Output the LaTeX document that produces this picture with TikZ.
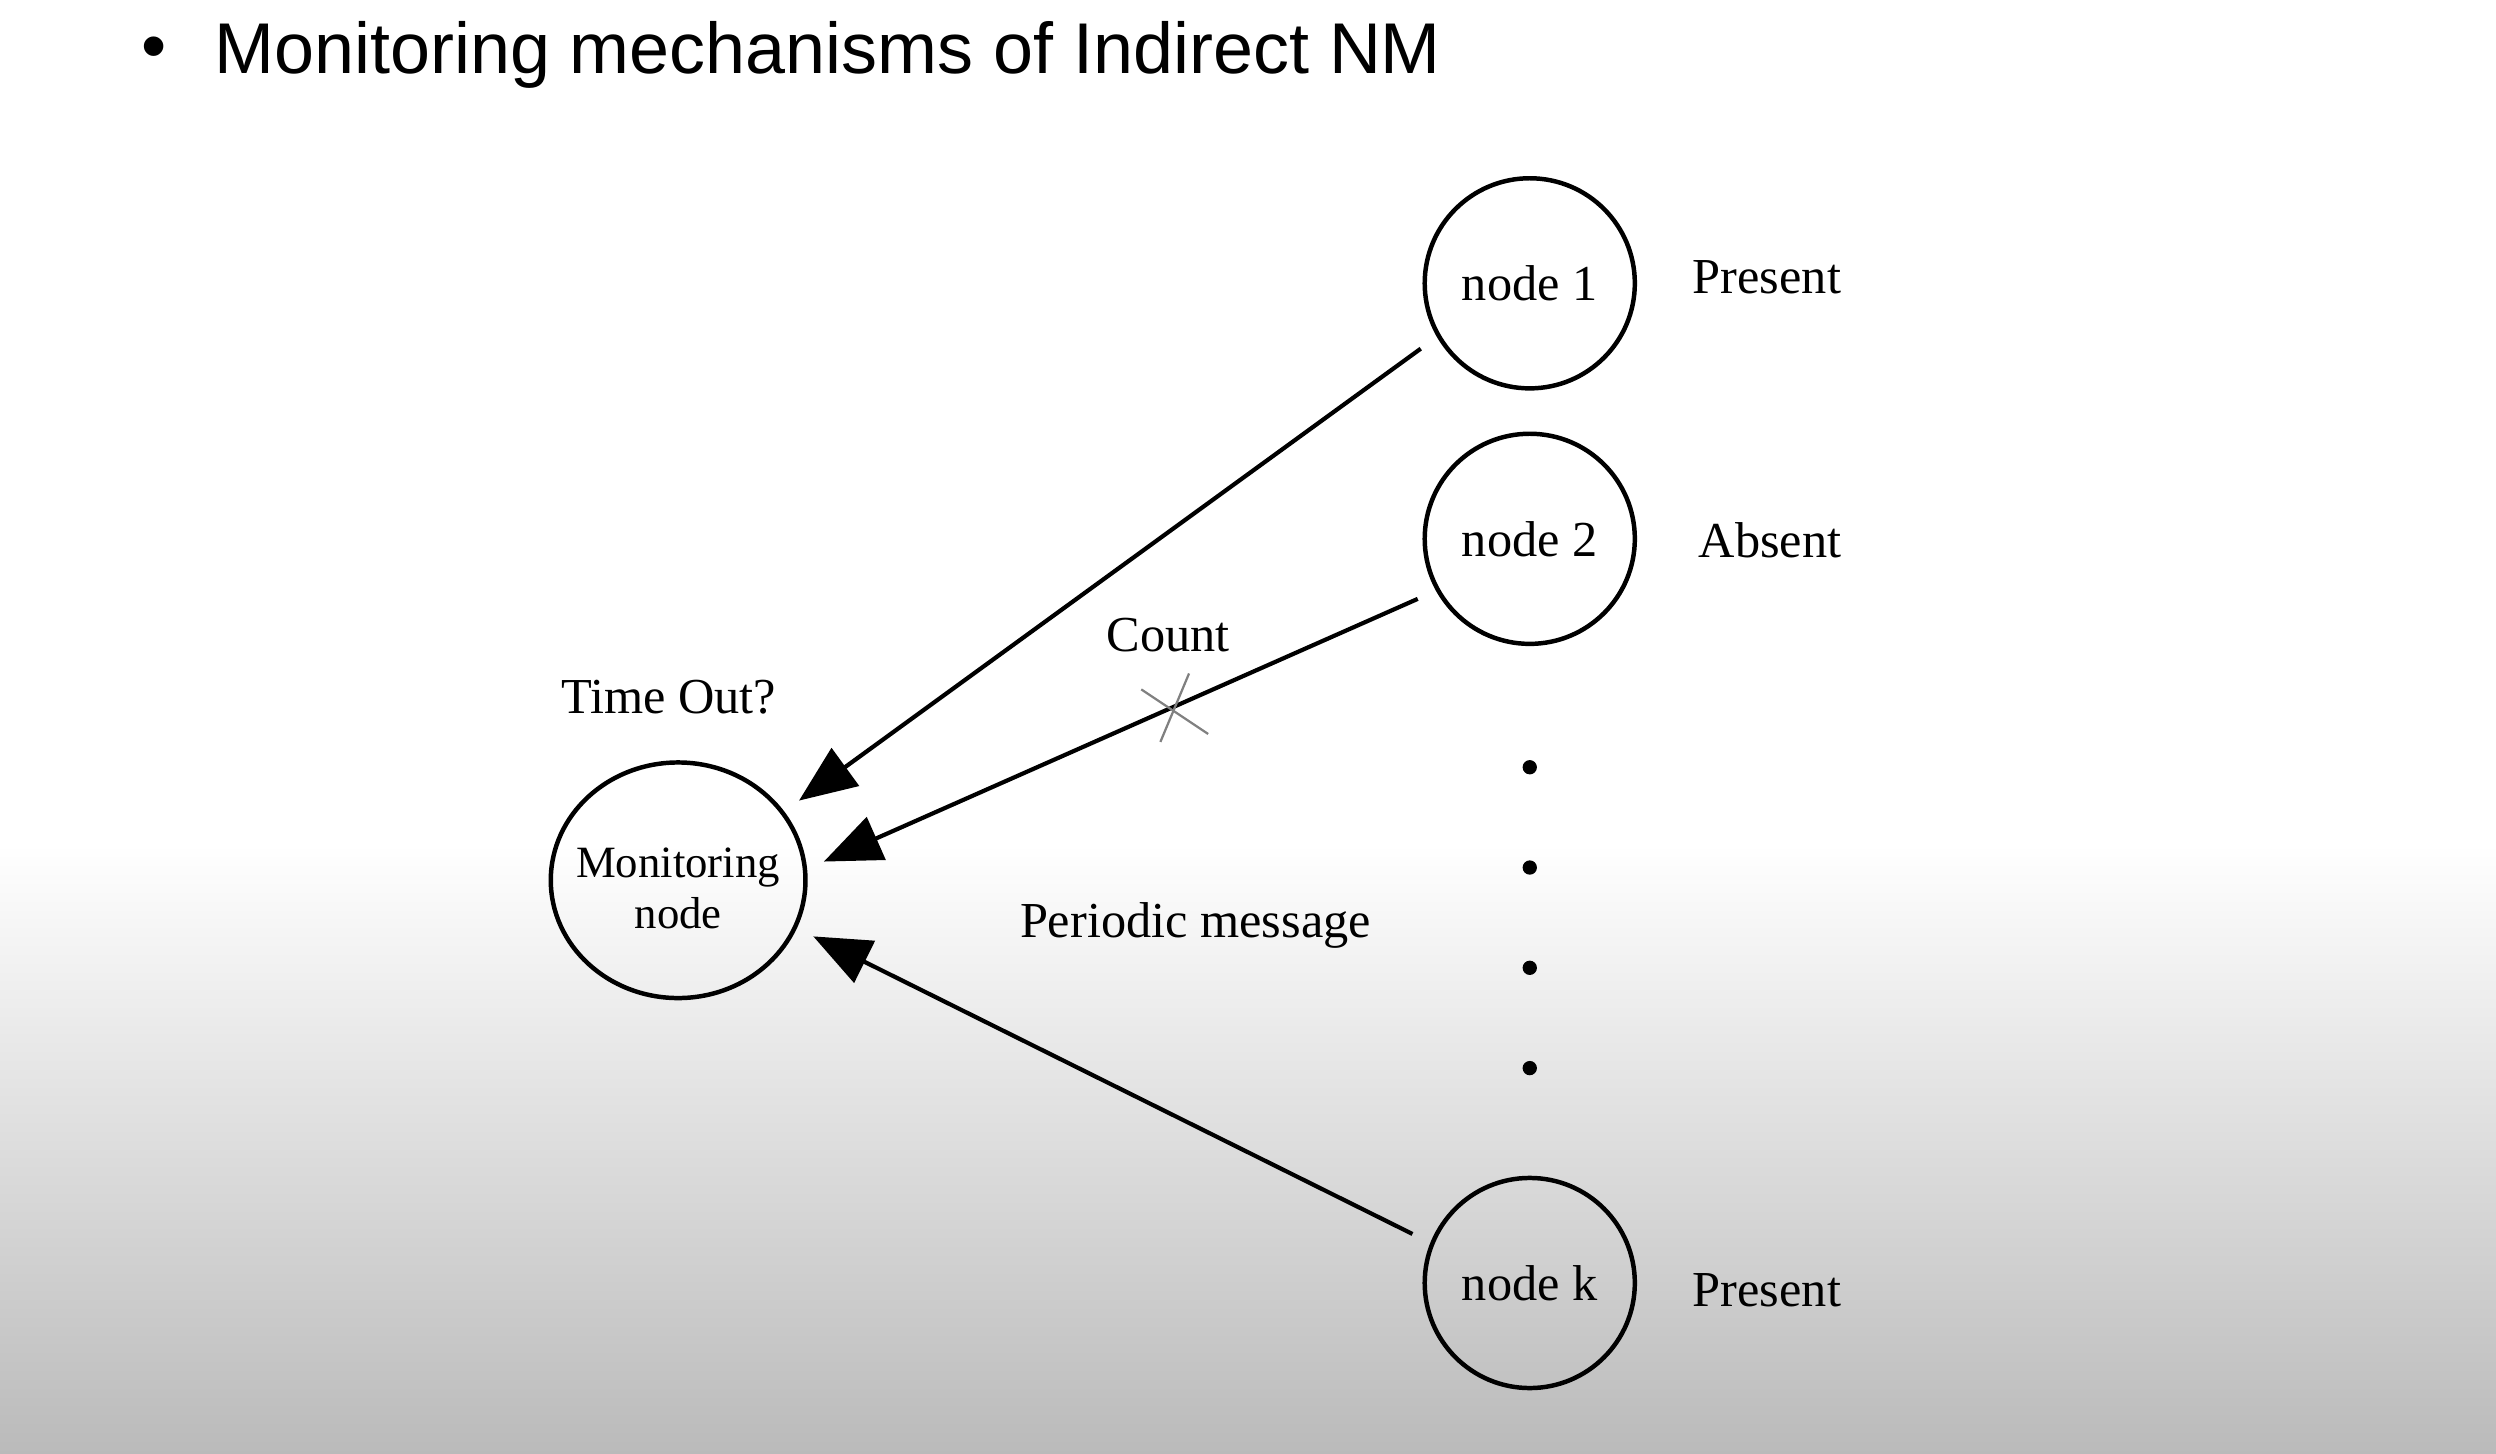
\documentclass[tikz,border=0pt]{standalone}
\usepackage{fontspec}
\setmainfont{Liberation Serif}
\newfontfamily\slidefont{Liberation Sans}
\usepackage{tikz}
\usetikzlibrary{arrows.meta,shapes.geometric}

\begin{document}
\begin{tikzpicture}[
		member/.style={draw, circle, line width=0.8pt, minimum size=1.32cm, inner sep=0pt, font=\fontsize{9}{11}\selectfont},
		monitor/.style={draw, ellipse, line width=0.8pt, minimum width=1.60cm, minimum height=1.48cm, inner sep=0pt, font=\fontsize{8}{9.1}\selectfont},
		status/.style={anchor=base, inner sep=0pt, font=\fontsize{9}{11}\selectfont},
		msg/.style={line width=0.75pt, -{Triangle[length=0.36cm,width=0.29cm]}, shorten <=0.125cm, shorten >=0.115cm},
		cut/.style={gray, line width=0.4pt}
	]
			\fill[white] (0,0) rectangle (15.68,9.13);
			\shade[top color=white, bottom color=black!27] (0,0) rectangle (15.68,3.83);
			
			\node[inner sep=0pt, font=\slidefont\fontsize{12.85}{15}\selectfont] (bullet) at (0.97,8.79) {•};
			\node[anchor=base west, inner sep=0pt, font=\slidefont\fontsize{12.85}{15}\selectfont] (title) at (1.34,8.67) {Monitoring mechanisms of Indirect NM};
			
			\node[monitor] (mon) at (4.26,3.60) {\raisebox{-4.3pt}[0pt][0pt]{\makebox[0pt]{\begin{tabular}{@{}c@{}}Monitoring\\node\end{tabular}}}};
			\node[member] (n1) at (9.61,7.35) {node 1};
			\node[member] (n2) at (9.61,5.745) {node 2};
			\node[member] (nk) at (9.61,1.07) {node k};
			
			\foreach \y in {4.31,3.68,3.05,2.42}
				\fill (9.61,\y) circle (0.045);
			
			\node[status] (s1) at (11.10,7.285) {Present};
			\node[status] (s2) at (11.12,5.625) {Absent};
			\node[status] (sk) at (11.10,0.92) {Present};
			\node[status] (timeout) at (4.20,4.65) {Time Out?};
			\node[status] (count) at (7.34,5.035) {Count};
			\node[status] (periodic) at (7.51,3.24) {Periodic message};
			
			\draw[msg] (n1.210) -- (mon.33);
			\draw[msg] (n2.209) -- coordinate[pos=0.423] (lost) (mon.5);
			\draw[msg] (nk.158) -- (mon.-22);
			
			\draw[cut] (lost) ++(-0.18,0.12) -- ++(0.42,-0.28);
			\draw[cut] (lost) ++(0.12,0.22) -- ++(-0.18,-0.43);
		\end{tikzpicture}
\end{document}
